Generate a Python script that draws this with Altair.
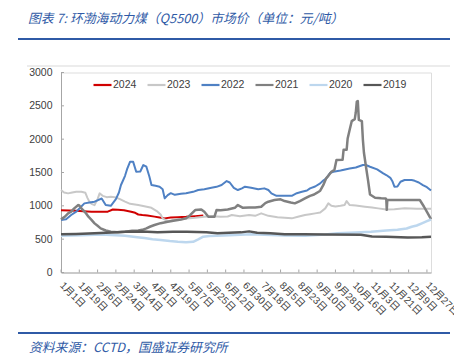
import altair as alt
import pandas as pd

title_text = "图表 7: 环渤海动力煤（Q5500）市场价（单位：元/吨）"
source_text = "资料来源：CCTD，国盛证券研究所"

series_names = ["2024", "2023", "2022", "2021", "2020", "2019"]
series_colors = ["#d00000", "#c8c8c8", "#4f81c4", "#808080", "#bdd7ee", "#575757"]
series_widths = [2, 2, 2, 2.5, 2.5, 2.5]

tick_days = list(range(0, 361, 18))
tick_labels = ["1月1日", "1月19日", "2月6日", "2月24日", "3月14日", "4月1日", "4月19日",
               "5月7日", "5月25日", "6月12日", "6月30日", "7月18日", "8月5日", "8月23日",
               "9月10日", "9月28日", "10月16日", "11月3日", "11月21日", "12月9日", "12月27日"]
y_ticks = [0, 500, 1000, 1500, 2000, 2500, 3000]

d2024 = [0, 8, 15, 22, 30, 38, 46, 51, 56, 62, 69, 73, 76, 80, 85, 92, 97, 102, 108, 115, 123, 132, 140]
v2024 = [935, 930, 925, 918, 912, 910, 912, 945, 940, 935, 912, 895, 870, 862, 855, 838, 825, 812, 825, 830, 835, 845, 855]

d2023 = [0, 3, 7, 11, 15, 20, 24, 26, 28, 30, 33, 36, 38, 41, 45, 49, 53, 58, 63, 68, 76, 82, 89, 95, 98, 100,
         103, 106, 111, 118, 124, 132, 141, 150, 157, 164, 168, 176, 185, 191, 197, 204, 213, 220, 227, 234,
         240, 245, 250, 255, 260, 263, 266, 270, 275, 279, 281, 284, 290, 299, 306, 312, 320, 328, 338, 350, 364]
v2023 = [1237, 1200, 1187, 1200, 1212, 1212, 1195, 1120, 1060, 1030, 1010, 1100, 1187, 1150, 1130, 1135, 1130,
         1100, 1062, 1030, 1012, 995, 970, 912, 870, 812, 787, 770, 790, 800, 810, 820, 837, 845, 835, 840, 862,
         845, 862, 850, 887, 850, 830, 820, 812, 840, 862, 875, 887, 900, 962, 1037, 1000, 990, 1000, 1012, 1072,
         1012, 1005, 987, 975, 962, 945, 950, 962, 955, 955]

d2022 = [0, 5, 10, 15, 20, 23, 28, 33, 37, 40, 44, 49, 54, 57, 59, 61, 63, 65, 68, 71, 74, 78, 81, 84, 87, 89,
         93, 97, 100, 102, 105, 108, 112, 118, 123, 130, 135, 141, 148, 153, 158, 163, 166, 170, 174, 178, 181,
         187, 194, 200, 204, 207, 212, 220, 227, 232, 237, 242, 245, 250, 255, 258, 261, 265, 268, 275, 284, 290,
         297, 300, 304, 311, 317, 320, 324, 326, 328, 331, 334, 338, 345, 348, 352, 356, 360, 364]
v2022 = [787, 800, 862, 912, 990, 1037, 1050, 1062, 1090, 1110, 1012, 1000, 1100, 1200, 1312, 1380, 1450, 1550,
         1662, 1660, 1512, 1515, 1612, 1587, 1437, 1312, 1300, 1287, 1250, 1112, 1160, 1190, 1165, 1180, 1190,
         1210, 1237, 1250, 1272, 1285, 1312, 1372, 1350, 1270, 1237, 1262, 1287, 1270, 1250, 1262, 1237, 1187,
         1150, 1150, 1150, 1190, 1212, 1230, 1262, 1290, 1337, 1380, 1412, 1497, 1512, 1530, 1560, 1575, 1612,
         1612, 1587, 1547, 1487, 1462, 1420, 1370, 1287, 1290, 1362, 1387, 1387, 1375, 1350, 1312, 1280, 1230]

d2021 = [0, 4, 7, 10, 13, 17, 18, 20, 24, 27, 30, 33, 36, 39, 44, 49, 56, 63, 70, 76, 80, 84, 88, 92, 98, 105,
         112, 118, 123, 127, 132, 138, 141, 145, 151, 153, 157, 164, 171, 174, 179, 185, 191, 197, 201, 204, 210,
         216, 220, 226, 230, 235, 240, 245, 249, 252, 255, 258, 261, 263, 266, 269, 271, 277, 278, 281, 282, 284,
         286, 289, 290, 291, 292, 293, 296, 297, 298, 300, 302, 304, 309, 315, 319.5, 320, 320.5, 321, 335, 353,
         357, 360, 364]
v2021 = [797, 840, 887, 912, 962, 1012, 1005, 962, 900, 837, 790, 737, 700, 662, 630, 612, 605, 612, 625, 630,
         640, 662, 690, 712, 740, 762, 780, 795, 812, 860, 937, 945, 912, 837, 837, 937, 935, 945, 970, 1012, 970,
         975, 975, 987, 1040, 1062, 1087, 1097, 1072, 1050, 1037, 1072, 1112, 1150, 1170, 1197, 1227, 1310, 1417,
         1450, 1512, 1540, 1687, 1690, 1840, 1840, 2010, 2140, 2270, 2300, 2400, 2562, 2570, 2290, 2270, 1990,
         1800, 1590, 1390, 1170, 1122, 1112, 1110, 1100, 940, 1087, 1087, 1087, 990, 910, 800]

d2020 = [0, 20, 40, 63, 75, 82, 90, 98, 107, 115, 123, 130, 135, 140, 146, 160, 171, 187, 200, 220, 240, 260,
         272, 290, 305, 320, 331, 340, 345, 350, 355, 360, 364]
v2020 = [550, 560, 570, 550, 530, 517, 500, 487, 472, 462, 455, 460, 497, 537, 547, 555, 562, 572, 565, 555, 550,
         570, 587, 600, 612, 630, 640, 660, 687, 705, 737, 770, 795]

d2019 = [0, 15, 33, 50, 63, 80, 95, 110, 124, 143, 154, 165, 177, 185, 193, 206, 220, 239, 260, 295, 306, 320,
         341, 355, 364]
v2019 = [575, 578, 587, 600, 612, 615, 605, 610, 612, 602, 590, 595, 602, 617, 597, 590, 575, 572, 570, 565, 540,
         537, 525, 530, 537]

series_days = [d2024, d2023, d2022, d2021, d2020, d2019]
series_vals = [v2024, v2023, v2022, v2021, v2020, v2019]

rows = []
for name, ds, vs in zip(series_names, series_days, series_vals):
    for d, v in zip(ds, vs):
        rows.append({"series": name, "day": d, "price": v})
df = pd.DataFrame(rows)

W, H = 370, 200
AXIS_COLOR = "#a6a6a6"
LABEL_COLOR = "#404040"
FONT = "'Liberation Sans', Arial, 'Noto Sans CJK SC', sans-serif"
CJK = "Noto Sans CJK SC"

label_expr = "[" + ",".join("'" + t + "'" for t in tick_labels) + "][round(datum.value/18)]"

x_axis = alt.Axis(values=tick_days, labelExpr=label_expr, labelAngle=45, labelAlign="left",
                  labelBaseline="middle", labelPadding=11, ticks=False, tickSize=0, grid=False,
                  domainColor=AXIS_COLOR, labelColor=LABEL_COLOR, labelFontSize=10,
                  labelFont=FONT, labelOverlap=False, labelBound=False, labelFlush=False, title=None)
y_axis = alt.Axis(values=y_ticks, format="d", ticks=False, tickSize=0, labelPadding=9, grid=False,
                  domainColor=AXIS_COLOR, labelColor=LABEL_COLOR, labelFontSize=10.5,
                  labelFont=FONT, labelOverlap=False, title=None)
x_scale = alt.Scale(domain=[0, 364], nice=False, zero=False)
y_scale = alt.Scale(domain=[0, 3000], nice=False)

color_enc = alt.Color("series:N", scale=alt.Scale(domain=series_names, range=series_colors),
                      legend=alt.Legend(orient="none", legendX=31, legendY=2, direction="horizontal",
                                        title=None, symbolType="stroke", symbolSize=324,
                                        symbolStrokeWidth=2.2, labelFontSize=10.5, labelFont=FONT,
                                        labelColor=LABEL_COLOR, columnPadding=6, labelOffset=0,
                                        padding=0))

layers = []
for i, (name, w) in enumerate(zip(series_names, series_widths)):
    layers.append(
        alt.Chart(df).transform_filter(alt.datum.series == name)
        .mark_line(strokeWidth=w, strokeJoin="round")
        .encode(x=alt.X("day:Q", scale=x_scale, axis=x_axis),
                y=alt.Y("price:Q", scale=y_scale, axis=y_axis),
                color=color_enc)
    )

xticks = alt.Chart(pd.DataFrame({"day": tick_days})).mark_rule(color=AXIS_COLOR, strokeWidth=1).encode(
    x=alt.X("day:Q", scale=x_scale, axis=x_axis), y=alt.value(H), y2=alt.value(H - 3))
yticks = alt.Chart(pd.DataFrame({"price": y_ticks})).mark_rule(color=AXIS_COLOR, strokeWidth=1).encode(
    y=alt.Y("price:Q", scale=y_scale, axis=y_axis), x=alt.value(0), x2=alt.value(3))

blue = "#2f5aa6"
one = pd.DataFrame({"t": [title_text]})
title_mark = alt.Chart(one).mark_text(align="left", baseline="alphabetic", font=CJK, fontSize=12.8,
                                      fontStyle="italic", color=blue).encode(
    text="t:N", x=alt.value(-33), y=alt.value(-49.5))
src = pd.DataFrame({"t": [source_text]})
source_mark = alt.Chart(src).mark_text(align="left", baseline="alphabetic", font=CJK, fontSize=12.8,
                                       fontStyle="italic", color=blue).encode(
    text="t:N", x=alt.value(-32), y=alt.value(279.5))
top_rule = alt.Chart(one).mark_rule(color=blue, strokeWidth=2).encode(
    x=alt.value(-43), x2=alt.value(389), y=alt.value(-33.5))
gray_rule = alt.Chart(one).mark_rule(color="#d9d9d9", strokeWidth=1).encode(
    x=alt.value(-34), x2=alt.value(389), y=alt.value(-6.5))
bottom_rule = alt.Chart(one).mark_rule(color=blue, strokeWidth=2).encode(
    x=alt.value(-43), x2=alt.value(389), y=alt.value(260.5))

chart = alt.layer(*layers, xticks, yticks, title_mark, source_mark, top_rule, gray_rule, bottom_rule).properties(
    width=W, height=H,
    autosize=alt.AutoSizeParams(type="none"),
    padding={"left": 53, "top": 64.5, "right": 23, "bottom": 83.5},
).configure_view(stroke=None).configure(background="white")

chart.save("out.html", embed_options={"renderer": "svg", "actions": False})
